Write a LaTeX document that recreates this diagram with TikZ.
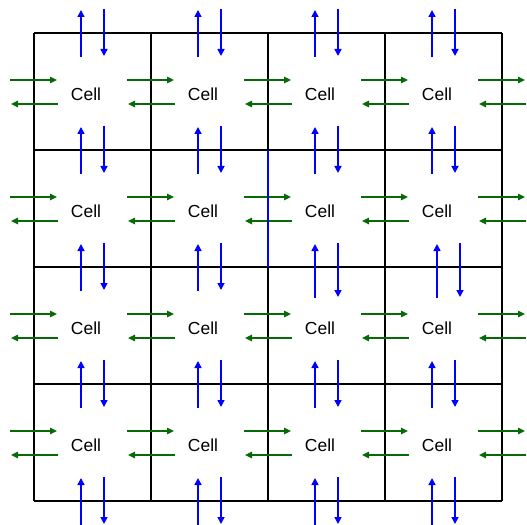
\documentclass[tikz,border=0pt]{standalone}
\usepackage{fontspec}
\setmainfont{Liberation Sans}
\usetikzlibrary{arrows.meta}
\definecolor{flowBlue}{HTML}{0000FF}
\definecolor{flowGreen}{HTML}{066A06}
\tikzset{
  % grid borders and the two kinds of exchange arrows
  gridline/.style = {line width=1.2bp, black},
  vflow/.style    = {flowBlue,  line width=1.5bp, -{Triangle[length=7bp,width=7bp]}},
  hflow/.style    = {flowGreen, line width=1.5bp, -{Triangle[length=7bp,width=6.5bp]}},
  celllbl/.style  = {font=\fontsize{17.5}{20}\selectfont, inner sep=0pt},
}

\begin{document}
\begin{tikzpicture}[x=1bp,y=-1bp]
  \useasboundingbox (0,0) rectangle (527,525);
  % the 4x4 grid
  \foreach \k in {0,...,4}{
    \draw[gridline] (34+117*\k,33) -- (34+117*\k,501);
    \draw[gridline] (34,33+117*\k) -- (502,33+117*\k);
  }
  \foreach \r in {0,...,3}
    \foreach \c in {0,...,3}
      \node[celllbl] (cell-\r-\c) at (86+117*\c,94+117*\r) {Cell};
  % green flows through the vertical borders
  \foreach \r in {0,...,3}
    \foreach \k in {0,...,4}{
      \draw[hflow] (10+117*\k,80+117*\r) -- (57+117*\k,80+117*\r);
      \draw[hflow] (58+117*\k,104+117*\r) -- (11+117*\k,104+117*\r);
    }
  % blue flows through the horizontal borders
  \foreach \c in {0,...,3}
    \foreach \k in {0,1,3,4}{
      \draw[vflow] (81+117*\c,57+117*\k) -- (81+117*\c,10+117*\k);
      \draw[vflow] (104+117*\c,9+117*\k) -- (104+117*\c,56+117*\k);
    }
  \foreach \c/\dx/\ext in {0/0/0,1/0/0,2/0/7,3/5/7}{
    \draw[vflow] (81+117*\c+\dx,291+\ext) -- (81+117*\c+\dx,244);
    \draw[vflow] (104+117*\c+\dx,243) -- (104+117*\c+\dx,290+\ext);
  }
  % blue border segment
  \draw[flowBlue, line width=1.5bp] (268,150) -- (268,267);
\end{tikzpicture}
\end{document}
